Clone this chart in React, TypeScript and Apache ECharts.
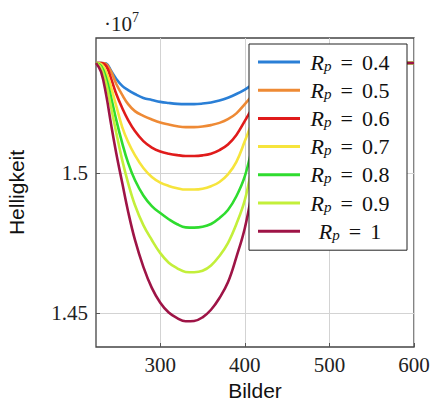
import React, { useEffect, useRef } from "react";
import * as echarts from "echarts";

const frames = [224, 230, 236, 242, 248, 255, 262, 270, 280, 290, 300, 310, 320, 330, 340, 350, 360, 370, 380, 390, 400, 410, 420, 430, 440, 450, 460, 600];

const rp04 = [1.5393, 1.5393, 1.5391, 1.5364, 1.5336, 1.5311, 1.5296, 1.5282, 1.5268, 1.5261, 1.5254, 1.525, 1.5247, 1.5246, 1.5246, 1.5248, 1.5252, 1.5259, 1.5269, 1.5282, 1.5298, 1.5318, 1.534, 1.5364, 1.5382, 1.5393, 1.5393, 1.5393];
const rp05 = [1.5393, 1.5393, 1.5389, 1.5361, 1.5318, 1.5279, 1.5246, 1.5221, 1.5204, 1.5191, 1.518, 1.5173, 1.5167, 1.5164, 1.5164, 1.5166, 1.5171, 1.5179, 1.5192, 1.5213, 1.5246, 1.5282, 1.5318, 1.5354, 1.5382, 1.5393, 1.5393, 1.5393];
const rp06 = [1.5393, 1.5393, 1.5382, 1.5336, 1.5282, 1.5232, 1.5189, 1.515, 1.5114, 1.5091, 1.5077, 1.5069, 1.5064, 1.5061, 1.5061, 1.5063, 1.5069, 1.5082, 1.5102, 1.5136, 1.5186, 1.5239, 1.5293, 1.5346, 1.5389, 1.5393, 1.5393, 1.5393];
const rp07 = [1.5393, 1.5389, 1.5361, 1.5304, 1.5239, 1.5164, 1.5111, 1.5064, 1.5018, 1.4986, 1.4966, 1.4954, 1.4946, 1.4941, 1.4941, 1.4944, 1.4953, 1.4968, 1.4995, 1.504, 1.5114, 1.5193, 1.5268, 1.5336, 1.5382, 1.5393, 1.5393, 1.5393];
const rp08 = [1.5393, 1.5382, 1.5339, 1.5268, 1.5189, 1.5107, 1.5036, 1.4975, 1.492, 1.4882, 1.4857, 1.4835, 1.4817, 1.4806, 1.4805, 1.4808, 1.4818, 1.4839, 1.4868, 1.4917, 1.4989, 1.5107, 1.5218, 1.5304, 1.5361, 1.5393, 1.5393, 1.5393];
const rp09 = [1.5393, 1.5375, 1.5318, 1.5232, 1.5143, 1.5046, 1.4964, 1.4886, 1.4814, 1.4761, 1.4714, 1.468, 1.466, 1.4647, 1.4646, 1.4651, 1.467, 1.4704, 1.475, 1.4818, 1.4904, 1.5046, 1.5189, 1.5296, 1.5368, 1.5393, 1.5393, 1.5393];
const rp10 = [1.5393, 1.5361, 1.5279, 1.5171, 1.507, 1.4965, 1.4862, 1.4762, 1.4665, 1.459, 1.4537, 1.4502, 1.4482, 1.4471, 1.4472, 1.4485, 1.4512, 1.4554, 1.461, 1.47, 1.4804, 1.4957, 1.5125, 1.5271, 1.5364, 1.5393, 1.5393, 1.5393];

const rpLabels = ["0.4", "0.5", "0.6", "0.7", "0.8", "0.9", "1"];
const seriesValues = [rp04, rp05, rp06, rp07, rp08, rp09, rp10];
const colors = ["#2a7fd6", "#ee8a35", "#e01b1b", "#f6e43c", "#2fdc2f", "#c3ef3a", "#9e1446"];

const xTicks = [300, 400, 500, 600];
const yTicks = [1.45, 1.5];

const SERIF = "Liberation Serif";
const SANS = "Liberation Sans";

export default function App() {
  const ref = useRef<HTMLDivElement>(null);
  useEffect(() => {
    if (!ref.current) return;
    const chart = echarts.init(ref.current, null, { renderer: "svg" });
    const series = seriesValues.map((vals, i) => ({
      name: `R_p = ${rpLabels[i]}`,
      type: "line",
      data: frames.map((x, j) => [x, vals[j]]),
      showSymbol: false,
      symbol: "none",
      smooth: 0.4,
      color: colors[i],
      lineStyle: { width: 2.6, color: colors[i] },
      z: 2 + i,
    }));
    chart.setOption({
      animation: false,
      backgroundColor: "#ffffff",
      grid: {
        left: 96,
        right: 18,
        top: 38,
        bottom: 54,
        outerBoundsMode: "none",
        containLabel: false,
        show: true,
        borderColor: "#444",
        borderWidth: 1.3,
        backgroundColor: "transparent",
      },
      xAxis: {
        type: "value",
        min: 224,
        max: 600,
        name: "Bilder",
        nameLocation: "middle",
        nameGap: 32,
        nameTextStyle: { fontFamily: SANS, fontSize: 21, lineHeight: 21, color: "#111" },
        axisLine: { show: false },
        axisTick: { show: true, inside: true, length: 4, customValues: xTicks, lineStyle: { color: "#555" } },
        axisLabel: { customValues: xTicks, fontFamily: SERIF, fontSize: 21, color: "#222", margin: 7 },
        splitLine: { show: true, lineStyle: { color: "#d3d3d3", width: 1 } },
      },
      yAxis: {
        type: "value",
        min: 1.4379,
        max: 1.5482,
        name: "Helligkeit",
        nameLocation: "middle",
        nameRotate: 90,
        nameGap: 69,
        nameTextStyle: { fontFamily: SANS, fontSize: 21, color: "#111" },
        axisLine: { show: false },
        axisTick: { show: true, inside: true, length: 4, customValues: yTicks, lineStyle: { color: "#555" } },
        axisLabel: {
          customValues: yTicks,
          fontFamily: SERIF,
          fontSize: 21,
          color: "#222",
          margin: 8,
          formatter: (v: number) => String(v),
        },
        splitLine: { show: true, lineStyle: { color: "#d3d3d3", width: 1 } },
      },
      legend: {
        orient: "vertical",
        left: 249,
        top: 44,
        padding: [6, 12, 8, 9],
        itemGap: 5.2,
        itemWidth: 42,
        itemHeight: 3,
        icon: "rect",
        backgroundColor: "#ffffff",
        borderColor: "#222",
        borderWidth: 1,
        borderRadius: 0,
        z: 10,
        data: rpLabels.map((l) => `R_p = ${l}`),
        formatter: (name: string) => {
          const v = name.split("= ")[1];
          return `{r|R}{s|p}{e|=}{t|${v}}`;
        },
        textStyle: {
          width: 90,
          color: "#111",
          fontFamily: SERIF,
          fontSize: 22,
          lineHeight: 22,
          rich: {
            r: { fontFamily: SERIF, fontStyle: "italic", fontSize: 22, lineHeight: 22, align: "center", color: "#111" },
            s: { fontFamily: SERIF, fontStyle: "italic", fontSize: 15, lineHeight: 22, align: "center", verticalAlign: "bottom", padding: [8, 0, 0, 0], color: "#111" },
            e: { fontFamily: SERIF, fontSize: 22, lineHeight: 22, align: "center", padding: [0, 9, 0, 9], color: "#111" },
            t: { fontFamily: SERIF, fontSize: 22, lineHeight: 22, align: "center", color: "#111" },
          },
        },
      },
      graphic: [
        {
          type: "text",
          left: 104,
          top: 10,
          style: {
            text: "{a|·10}{b|7}",
            rich: {
              a: { fontFamily: SERIF, fontSize: 21, lineHeight: 24, verticalAlign: "bottom", fill: "#222" },
              b: { fontFamily: SERIF, fontSize: 14, lineHeight: 24, verticalAlign: "top", fill: "#222" },
            },
          },
        },
      ],
      series,
    });
    return () => chart.dispose();
  }, []);
  return <div ref={ref} style={{ position: "fixed", left: 0, top: 0, width: 432, height: 401 }} />;
}
